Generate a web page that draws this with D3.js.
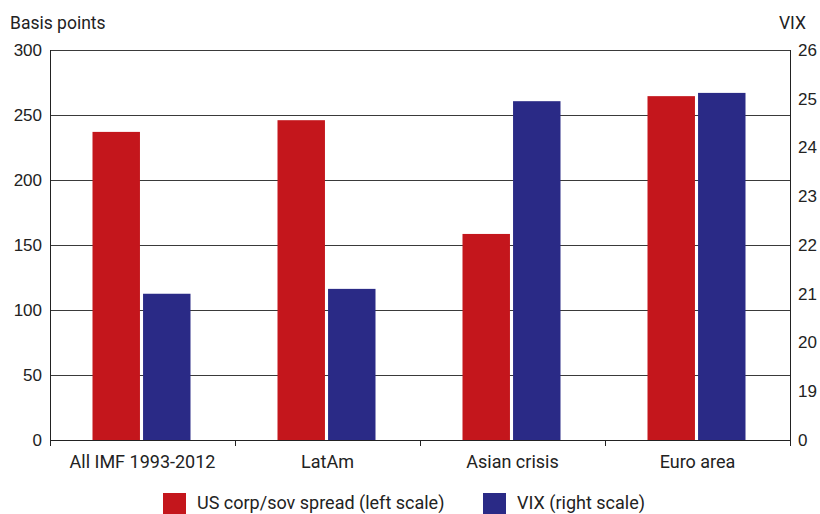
<!DOCTYPE html>
<html>
<head>
<meta charset="utf-8">
<script src="https://cdn.jsdelivr.net/npm/d3@7/dist/d3.min.js"></script>
<style>
  body { margin: 0; background: #fff; }
  svg { display: block; font-family: Roboto, "DejaVu Sans", sans-serif; }
</style>
</head>
<body>
<svg id="chart" width="820" height="514"></svg>
<script>
// Données
const categories = ["All IMF 1993-2012", "LatAm", "Asian crisis", "Euro area"];
const spread = [237, 246, 158.5, 264.5];   // points de base (échelle gauche)
const vix = [21.0, 21.1, 24.95, 25.12];     // VIX (échelle droite, coupée sous 19)
const leftTicks = [0, 50, 100, 150, 200, 250, 300];
const rightTicks = [18, 19, 20, 21, 22, 23, 24, 25, 26];
const seriesNames = ["US corp/sov spread (left scale)", "VIX (right scale)"];
const colors = ["#c4161c", "#2a2a86"];

const svg = d3.select("#chart");
const margin = { top: 50, right: 30, bottom: 74, left: 50 };
const W = 820 - margin.left - margin.right;
const H = 514 - margin.top - margin.bottom;
const g = svg.append("g").attr("transform", `translate(${margin.left},${margin.top})`);

const x = d3.scaleBand().domain(categories).range([0, W]);
const yL = d3.scaleLinear().domain([0, 300]).range([H, 0]);
// échelle droite : le bas de l'axe vaut "0" (axe coupé), puis 19..26
const yR = d3.scaleLinear().domain([18, 26]).range([H, 0]);

// grille horizontale
g.append("g").selectAll("line").data(leftTicks.slice(1)).join("line")
  .attr("x1", 0).attr("x2", W)
  .attr("y1", (d) => Math.round(yL(d)) + 0.5).attr("y2", (d) => Math.round(yL(d)) + 0.5)
  .attr("stroke", "#3a3a3a").attr("stroke-width", 1.2);

// barres
const barW = 46, gap = 6;
const inner = d3.scaleBand().domain([0, 1]).range([0, 2 * barW + gap]).paddingInner(gap / (2 * barW + gap));
categories.forEach((c, i) => {
  const x0 = x(c) + (x.bandwidth() - (2 * barW + gap)) / 2 - 1;
  g.append("rect")
    .attr("x", x0 + inner(0)).attr("width", inner.bandwidth())
    .attr("y", yL(spread[i])).attr("height", H - yL(spread[i]))
    .attr("fill", colors[0]);
  g.append("rect")
    .attr("x", x0 + inner(1)).attr("width", inner.bandwidth())
    .attr("y", yR(vix[i])).attr("height", H - yR(vix[i]))
    .attr("fill", colors[1]);
});

// axes
const fontSize = "17px";
const axL = g.append("g")
  .call(d3.axisLeft(yL).tickValues(leftTicks).tickSize(0).tickPadding(8));
axL.select(".domain").attr("stroke", "#222").attr("d", `M0.5,0V${H + 6}`);
axL.selectAll("text").style("font-size", fontSize).style("fill", "#222");

const axR = g.append("g").attr("transform", `translate(${W},0)`)
  .call(d3.axisRight(yR).tickValues(rightTicks).tickSize(0).tickPadding(8)
    .tickFormat((d) => (d === 18 ? "0" : d)));
axR.select(".domain").attr("stroke", "#222").attr("d", `M0.5,0V${H + 6}`);
axR.selectAll("text").style("font-size", fontSize).style("fill", "#222");

// axe du bas : traits aux limites des catégories
const axB = g.append("g").attr("transform", `translate(0,${H})`);
axB.append("line").attr("x1", 0).attr("x2", W).attr("y1", 0.5).attr("y2", 0.5).attr("stroke", "#222");
axB.selectAll("line.tk").data(d3.range(categories.length + 1)).join("line").attr("class", "tk")
  .attr("x1", (d) => Math.round(d * x.step()) + 0.5).attr("x2", (d) => Math.round(d * x.step()) + 0.5)
  .attr("y1", 0).attr("y2", 6).attr("stroke", "#222");
axB.selectAll("text").data(categories).join("text")
  .attr("x", (d) => x(d) + x.bandwidth() / 2).attr("y", 28)
  .attr("text-anchor", "middle").style("font-size", "18px").style("fill", "#222")
  .text((d) => d);

// titres d'axes
svg.append("text").attr("x", 10).attr("y", 29).style("font-size", "17.5px").style("fill", "#222").text("Basis points");
svg.append("text").attr("x", 806).attr("y", 29).attr("text-anchor", "end").style("font-size", "17.5px").style("fill", "#222").text("VIX");

// légende
const legendX = [163, 483];
seriesNames.forEach((s, i) => {
  svg.append("rect").attr("x", legendX[i]).attr("y", 493).attr("width", 23).attr("height", 21).attr("fill", colors[i]);
  svg.append("text").attr("x", legendX[i] + 34).attr("y", 509)
    .style("font-size", "18px").style("fill", "#222").text(s);
});
</script>
</body>
</html>
